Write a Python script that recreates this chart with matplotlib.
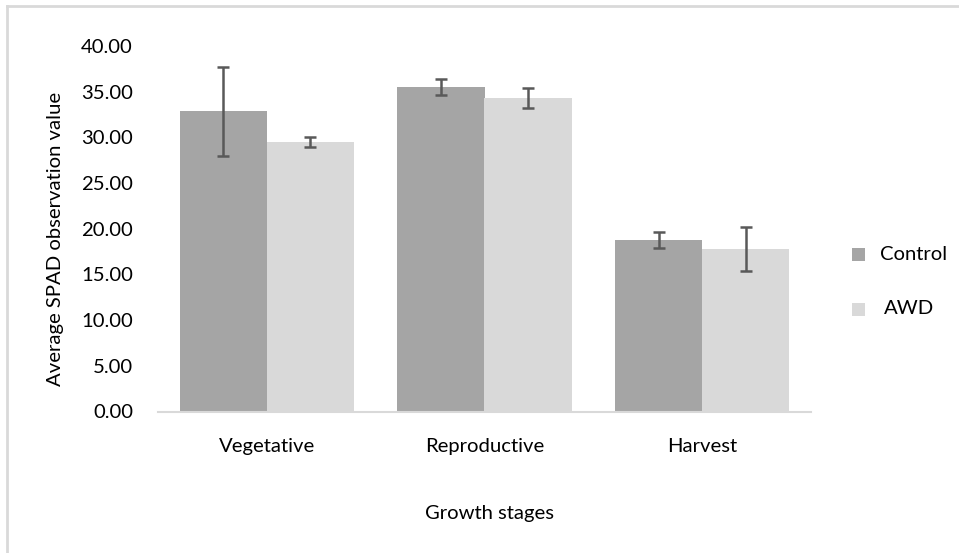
import matplotlib
matplotlib.use("Agg")
import matplotlib.pyplot as plt
import numpy as np
from matplotlib.lines import Line2D
from matplotlib.patches import Rectangle

categories = ["Vegetative", "Reproductive", "Harvest"]
series_names = ["Control", "AWD"]
control = [32.85, 35.5, 18.75]
control_err = [4.85, 0.9, 0.85]
awd = [29.45, 34.35, 17.8]
awd_err = [0.55, 1.1, 2.4]
yticks = [0, 5, 10, 15, 20, 25, 30, 35, 40]
colors = ["#a5a5a5", "#d9d9d9"]

plt.rcParams['font.family'] = ['Lato', 'DejaVu Sans']
FS = 14.6

fig = plt.figure(figsize=(9.59, 5.53), dpi=100)
W, H = 959, 553
ax = fig.add_axes([158/W, 1-411.5/H, (811-158)/W, (411.5-46)/H])

x = np.arange(len(categories))
w = 0.4
ekw = dict(ecolor="#595959", elinewidth=1.8, capsize=4.5, capthick=1.8)
ax.bar(x - w/2, control, w, color=colors[0], yerr=control_err, error_kw=ekw, label=series_names[0], zorder=2)
ax.bar(x + w/2, awd, w, color=colors[1], yerr=awd_err, error_kw=ekw, label=series_names[1], zorder=2)

ax.set_xlim(-0.5, 2.5)
ax.set_ylim(0, 40)
ax.set_yticks(yticks)
ax.set_yticklabels([f"{v:.2f}" for v in yticks])
ax.set_xticks(x)
ax.set_xticklabels(categories)
ax.tick_params(axis='both', length=0, labelsize=FS, colors="#000000")
ax.tick_params(axis='y', pad=18)
ax.tick_params(axis='x', pad=19)
for s in ["top", "right", "left"]:
    ax.spines[s].set_visible(False)
ax.spines["bottom"].set_color("#d9d9d9")
ax.spines["bottom"].set_linewidth(1.5)

fig.text(489/W, 1-513/H, "Growth stages", ha="center", va="center", fontsize=FS)
fig.text(55.5/W, 1-238.5/H, "Average SPAD observation value", ha="center", va="center",
         rotation=90, fontsize=FS)

# legend
leg_y = [254, 309]
leg_txt_x = [880, 884]
for name, c, yy, tx in zip(series_names, colors, leg_y, leg_txt_x):
    fig.add_artist(Rectangle((852/W, 1-(yy+6.5)/H), 13/W, 13/H, facecolor=c, edgecolor="none",
                             transform=fig.transFigure))
    fig.text(tx/W, 1-yy/H, name, ha="left", va="center", fontsize=FS)

# figure border
fig.add_artist(Line2D([7/W, 1], [1-6/H, 1-6/H], color="#d9d9d9", lw=2, transform=fig.transFigure))
fig.add_artist(Line2D([7/W, 7/W], [0, 1-6/H], color="#d9d9d9", lw=2, transform=fig.transFigure))

fig.savefig("out.png", dpi=100)
